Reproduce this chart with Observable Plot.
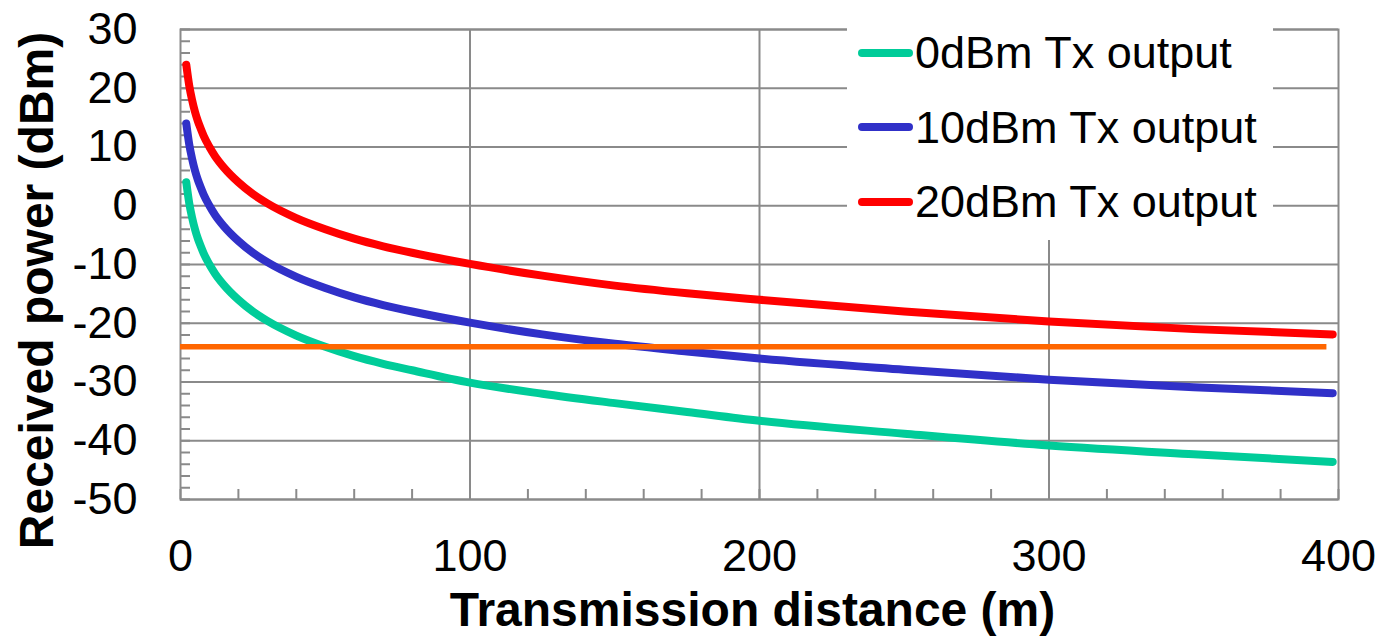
<!DOCTYPE html>
<html>
<head>
<meta charset="utf-8">
<script src="https://cdn.jsdelivr.net/npm/d3@7"></script>
<script src="https://cdn.jsdelivr.net/npm/@observablehq/plot@0.6"></script>
<style>
html, body { margin: 0; padding: 0; background: #fff; }
#wrap { position: relative; width: 1383px; height: 636px; font-family: "Liberation Sans", Arial, sans-serif; }
#legend { position: absolute; left: 847px; top: 18px; width: 426px; height: 222px; background: #fff; }
.row { position: absolute; left: 11px; height: 60px; display: flex; align-items: center; }
.sw { width: 55px; height: 8px; border-radius: 4px; margin-right: 2px; }
.lbl { font-size: 45px; color: #000; line-height: 1; white-space: nowrap; }
</style>
</head>
<body>
<div id="wrap"></div>
<script>
// Transmission distance (m)
const distance = [2, 3, 4, 5, 6, 7, 8, 10, 12, 15, 20, 25, 30, 40, 50, 60, 70, 80, 100, 125, 150, 175, 200, 250, 300, 350, 398];
// Received power (dBm) for each Tx output
const rx0dBm  = [4, 0.5, -2, -4, -5.6, -6.9, -8.1, -10, -11.6, -13.5, -16, -18, -19.6, -22.1, -24, -25.6, -26.9, -28, -30.1, -32, -33.6, -35.1, -36.6, -38.8, -40.8, -42.3, -43.6];
const rx10dBm = [14, 10.5, 8, 6, 4.4, 3.1, 1.9, 0, -1.6, -3.5, -6, -8, -9.6, -12.1, -14, -15.6, -16.9, -18, -19.9, -21.9, -23.5, -24.8, -26, -27.9, -29.6, -30.9, -31.9];
const rx20dBm = [24, 20.5, 18, 16, 14.4, 13.1, 11.9, 10, 8.4, 6.5, 4, 2, 0.4, -2.1, -4, -5.6, -6.9, -8, -9.9, -11.9, -13.6, -14.9, -16, -18, -19.7, -21, -21.9];
const seriesNames = ["0dBm Tx output", "10dBm Tx output", "20dBm Tx output"];
const seriesColors = ["#00CC99", "#3030C8", "#FF0000"];
// Sensitivity threshold line
const thresholdLevel = [-24];
const thresholdSpan = [0, 396];
// Axis ticks
const xTicks = [0, 100, 200, 300, 400];
const yTicks = [30, 20, 10, 0, -10, -20, -30, -40, -50];
const xGrid = [100, 200, 300];
const xMinor = d3.range(0, 401, 20);
const yMinor = d3.range(-50, 31, 2);
const xTitle = "Transmission distance (m)";
const yTitle = "Received power (dBm)";

const seriesValues = [rx0dBm, rx10dBm, rx20dBm];
const rows = seriesNames.flatMap((name, s) =>
  distance.map((d, i) => ({ distance: d, power: seriesValues[s][i], series: name })));

const W = 1383, H = 636, mL = 180, mR = 45, mT = 29, mB = 137;
const pxPerX = (W - mL - mR) / 400;
const pxPerY = (H - mT - mB) / 80;
const minorLen = 10;
const grey = "#8a8a8a";

const plot = Plot.plot({
  width: W, height: H,
  marginLeft: mL, marginRight: mR, marginTop: mT, marginBottom: mB,
  style: { fontFamily: '"Liberation Sans", Arial, sans-serif', color: "#000", background: "#fff", overflow: "visible" },
  x: { domain: [0, 400] },
  y: { domain: [-50, 30] },
  color: { domain: seriesNames, range: seriesColors },
  marks: [
    Plot.gridY(yTicks, { stroke: grey, strokeOpacity: 1, strokeWidth: 2 }),
    Plot.gridX(xGrid, { stroke: grey, strokeOpacity: 1, strokeWidth: 2 }),
    Plot.ruleY(yMinor, { y: d => d, x1: 0, x2: minorLen / pxPerX, stroke: grey, strokeWidth: 2 }),
    Plot.ruleX(xMinor, { x: d => d, y1: -50, y2: -50 + minorLen / pxPerY, stroke: grey, strokeWidth: 2 }),
    Plot.frame({ stroke: grey, strokeWidth: 2 }),
    Plot.line(rows, { x: "distance", y: "power", z: "series", stroke: "series", strokeWidth: 8,
      strokeLinecap: "round", strokeLinejoin: "round", curve: "monotone-x" }),
    Plot.ruleY(thresholdLevel, { y: d => d, x1: thresholdSpan[0], x2: thresholdSpan[1], stroke: "#FF6600", strokeWidth: 5.5 }),
    Plot.axisY(yTicks, { tickSize: 0, tickPadding: 43, fontSize: 45, tickFormat: d => String(d), label: null }),
    Plot.axisX(xTicks, { tickSize: 0, tickPadding: 40, fontSize: 45, tickFormat: d => String(d), label: null }),
    Plot.text([yTitle], { text: d => d, frameAnchor: "left", rotate: -90, dx: -128, dy: 26,
      fontSize: 48, fontWeight: "bold", lineAnchor: "bottom", textAnchor: "middle", fill: "#000" }),
    Plot.text([xTitle], { text: d => d, frameAnchor: "bottom", dx: -7, dy: 126,
      fontSize: 48, fontWeight: "bold", lineAnchor: "bottom", textAnchor: "middle", fill: "#000" })
  ]
});

const wrap = document.getElementById("wrap");
wrap.appendChild(plot);

const legend = document.createElement("div");
legend.id = "legend";
const rowCenters = [52.7, 127.3, 201.7];
seriesNames.forEach((name, i) => {
  const row = document.createElement("div");
  row.className = "row";
  row.style.top = (rowCenters[i] - 18 - 30) + "px";
  const sw = document.createElement("span");
  sw.className = "sw";
  sw.style.background = seriesColors[i];
  const lbl = document.createElement("span");
  lbl.className = "lbl";
  lbl.textContent = name;
  row.appendChild(sw);
  row.appendChild(lbl);
  legend.appendChild(row);
});
wrap.appendChild(legend);
</script>
</body>
</html>
